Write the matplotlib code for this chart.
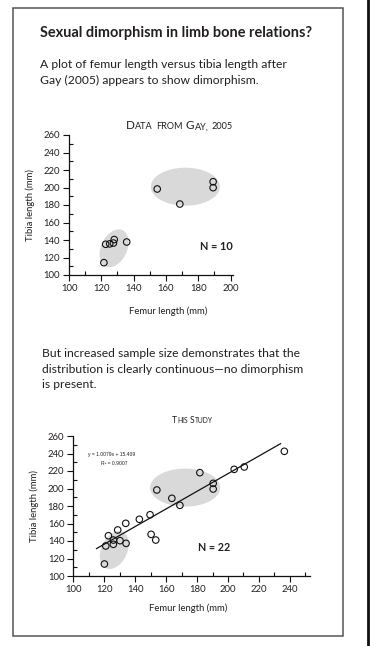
import matplotlib
matplotlib.use("Agg")
import matplotlib.pyplot as plt
import numpy as np
from matplotlib.ticker import MultipleLocator
from matplotlib.patches import Rectangle, Polygon

# ---------------- data ----------------
gay_femur = [121.6, 122.7, 125.2, 127.5, 128.0, 135.7, 154.6, 168.6, 189.2, 189.2]
gay_tibia = [114.1, 135.1, 135.6, 136.5, 140.5, 137.7, 198.3, 181.1, 206.6, 199.8]

study_femur = [120.1, 121.0, 122.7, 125.9, 125.9, 128.7, 130.2, 133.9, 134.1, 142.7, 149.6,
               150.3, 153.3, 154.0, 163.7, 168.9, 181.8, 190.4, 190.4, 204.0, 210.5, 236.4]
study_tibia = [113.7, 134.3, 146.0, 141.1, 136.2, 152.6, 140.4, 160.2, 137.3, 164.8, 170.0,
               147.6, 141.1, 198.3, 188.8, 180.8, 218.1, 205.9, 199.4, 221.9, 224.6, 242.5]

fit_slope = 1.0079
fit_intercept = 15.409
fit_r2 = 0.9007
fit_xrange = [115, 234]

title = "Sexual dimorphism in limb bone relations?"
para1 = ["A plot of femur length versus tibia length after",
         "Gay (2005) appears to show dimorphism."]
para2 = ["But increased sample size demonstrates that the",
         "distribution is clearly continuous\u2014no dimorphism",
         "is present."]
chart1_title = "Data from Gay, 2005"
chart2_title = "This Study"
xlabel = "Femur length (mm)"
ylabel = "Tibia length (mm)"

# ---------------- figure ----------------
W, H = 370, 646
plt.rcParams['font.family'] = ['Lato', 'DejaVu Sans']
fig = plt.figure(figsize=(W / 100, H / 100), dpi=100)
fig.patch.set_facecolor('white')
renderer = fig.canvas.get_renderer()
TXT = '#231f20'


def fx(x):
    return x / W


def fy(y):
    return 1 - y / H


# panel frame and right black rule
fig.add_artist(Rectangle((fx(13), fy(636)), (343 - 13) / W, (636 - 8) / H,
                         transform=fig.transFigure, fill=False, ec='#555555', lw=1.1))
fig.add_artist(plt.Line2D([fx(367.5), fx(367.5)], [0, 1], transform=fig.transFigure,
                          color='#111111', lw=2.0))


def fit_text(x, y, s, target_w, size=None, **kw):
    t = fig.text(fx(x), fy(y), s, fontsize=10, va='baseline', color=TXT, **kw)
    if size is None:
        w = t.get_window_extent(renderer).width
        size = 10 * target_w / w
    t.set_fontsize(size)
    return t, size


# title
fit_text(40, 37.5, title, 272, fontweight='bold')

# paragraph 1
_, s1 = fit_text(40, 68, para1[0], 247)
fit_text(40, 84, para1[1], None, size=s1)

# paragraph 2
_, s2 = fit_text(41.7, 357.3, para2[0], 256.7)
fit_text(41.7, 372.7, para2[1], None, size=s2)
fit_text(41.7, 388, para2[2], None, size=s2)


def smallcaps(x0, x1, yb, s, big=5.6, small=4.4):
    words = s.split(' ')
    pieces = []
    for w in words:
        runs = []
        for c in w:
            sz = big if c.isupper() else small
            if runs and runs[-1][1] == sz:
                runs[-1][0] += c.upper()
            else:
                runs.append([c.upper(), sz])
        pieces.append(runs)

    def measure(txt, sz):
        t = fig.text(0, 0, txt, fontsize=sz)
        w = t.get_window_extent(renderer).width
        t.remove()
        return w

    def layout(scale):
        total = 0
        items = []
        for i, runs in enumerate(pieces):
            for txt, sz in runs:
                w = measure(txt, sz * scale)
                items.append((total, txt, sz * scale))
                total += w + 0.3 * scale
            if i < len(pieces) - 1:
                total += 0.30 * small * scale * 100 / 72
        return total, items

    total, _ = layout(1.0)
    scale = (x1 - x0) / total
    total, items = layout(scale)
    for off, txt, sz in items:
        fig.text(fx(x0 + off), fy(yb), txt, fontsize=sz, va='baseline', color=TXT)


smallcaps(126, 233, 129.3, chart1_title)
smallcaps(171.7, 213.3, 423.3, chart2_title)


def style_axes(ax, xmax):
    ax.set_xlim(100, xmax)
    ax.set_ylim(100, 260)
    ax.patch.set_alpha(0)
    for sp in ['top', 'right']:
        ax.spines[sp].set_visible(False)
    for sp in ['left', 'bottom']:
        ax.spines[sp].set_linewidth(0.9)
        ax.spines[sp].set_color('#111111')
    ax.xaxis.set_major_locator(MultipleLocator(20))
    ax.xaxis.set_minor_locator(MultipleLocator(10))
    ax.yaxis.set_major_locator(MultipleLocator(20))
    ax.yaxis.set_minor_locator(MultipleLocator(10))
    ax.tick_params(which='major', direction='out', length=4, width=0.8,
                   labelsize=6.8, pad=2.5, colors='#111111', labelcolor=TXT)
    ax.tick_params(which='minor', direction='in', length=3, width=0.8, colors='#111111')


def blob(ax, cx, cy, a, b, ang):
    t = np.linspace(0, 2 * np.pi, 120)
    dx, dy = a * np.cos(t), b * np.sin(t)
    r = np.deg2rad(ang)
    c = ax.transData.transform((cx, cy))
    pts = c + np.column_stack([dx * np.cos(r) - dy * np.sin(r), dx * np.sin(r) + dy * np.cos(r)])
    ax.add_patch(Polygon(ax.transData.inverted().transform(pts), closed=True,
                         fc='#d9d9d9', ec='none', zorder=1))


# ---------------- chart 1 ----------------
ax1 = fig.add_axes([fx(69), fy(275), (233 - 69) / W, 140 / H])
style_axes(ax1, 201.5)
blob(ax1, 127.9, 130.5, 13, 20, -25)
blob(ax1, 172.0, 200.9, 34.5, 19, 0)
ax1.scatter(gay_femur, gay_tibia, s=22, facecolors='none', edgecolors='#111111',
            linewidths=0.8, zorder=3)
fit_text(200, 250, "N = 10", 33, fontweight='bold')
fig.text(fx(30), fy(205), ylabel, rotation=90, ha='center', va='center',
         fontsize=6.8, color=TXT)
fig.text(fx(168), fy(311.7), xlabel, ha='center', va='center', fontsize=6.8, color=TXT)

# ---------------- chart 2 ----------------
ax2 = fig.add_axes([fx(73.3), fy(576), (310 - 73.3) / W, 140 / H])
style_axes(ax2, 253)
blob(ax2, 126.5, 129.7, 13, 20, -25)
blob(ax2, 172.3, 201.0, 35, 19, 0)
fx_line = np.array(fit_xrange)
ax2.plot(fx_line, fit_slope * fx_line + fit_intercept, color='#111111', lw=0.9, zorder=2)
ax2.scatter(study_femur, study_tibia, s=22, facecolors='none', edgecolors='#111111',
            linewidths=0.8, zorder=3)
fit_text(198.3, 551, "N = 22", 32, fontweight='bold')
eq1 = f"y = {fit_slope}x + {fit_intercept}"
eq2 = f"R\u00b2 = {fit_r2}"
t, se = fit_text(88.3, 455.7, eq1, 46.7, family=['Liberation Sans Narrow', 'Liberation Sans'])
fig.text(fx(114.2), fy(465), eq2, ha='center', va='baseline', fontsize=se, color=TXT,
         family=['Liberation Sans Narrow', 'Liberation Sans'])
fig.text(fx(34), fy(506), ylabel, rotation=90, ha='center', va='center',
         fontsize=6.8, color=TXT)
fig.text(fx(188.3), fy(608), xlabel, ha='center', va='center', fontsize=6.8, color=TXT)

fig.savefig("out.png", dpi=100)
